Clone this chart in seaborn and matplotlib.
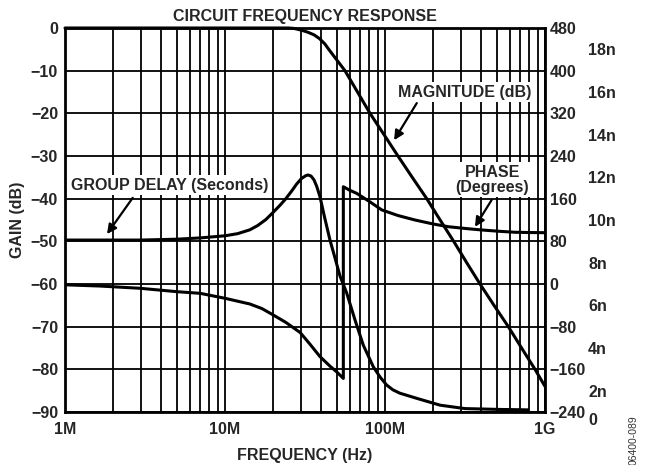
import matplotlib
matplotlib.use("Agg")
import matplotlib.pyplot as plt
import pandas as pd
import seaborn as sns
from matplotlib.transforms import blended_transform_factory

# ---- data -------------------------------------------------------------
# Magnitude response, dB
mag_freq = [1e6, 10e6, 20e6, 25e6, 27e6, 30e6, 33e6, 36e6, 39e6, 42e6,
            44.5e6, 50e6, 56.2e6, 61.5e6, 67.3e6, 80.6e6, 98.6e6, 120.5e6,
            148e6, 182.4e6, 221e6, 268.7e6, 324e6, 392.4e6, 480e6, 590e6,
            714e6, 866e6, 1e9]
mag_db = [0, 0, 0, 0, -0.1, -0.5, -1.0, -1.6, -2.5, -3.7,
          -5.0, -7.5, -10, -12.5, -15, -20, -25, -30,
          -35, -40, -45, -50, -55, -60, -65, -70,
          -75, -80, -84]

# Phase response, degrees (wraps from -180 to +180 near 55 MHz)
phase_freq = [1e6, 1.65e6, 2.94e6, 5e6, 7e6, 10e6, 14.3e6, 17e6, 20e6,
              24e6, 29.5e6, 34e6, 39.2e6, 45.3e6, 50e6, 54.9e6, 54.9e6,
              60e6, 66.5e6, 80.6e6, 95.3e6, 120.5e6, 154e6, 200e6, 249e6,
              320e6, 402e6, 520e6, 649e6, 800e6, 1e9]
phase_deg = [-1.5, -3.8, -8, -14.4, -17.5, -26.8, -37.5, -46, -58,
             -72, -91, -113, -136, -154, -165, -177, 182.4,
             176, 170, 154, 139, 128.4, 120, 112.5, 107.4,
             104, 101.3, 98.8, 97, 96.5, 96.2]

# Group delay, ns
gd_freq = [1e6, 2e6, 3e6, 5e6, 7e6, 10e6, 12e6, 14.3e6, 16e6, 18e6, 20e6,
           22e6, 24e6, 26e6, 28e6, 30e6, 32e6, 33e6, 34.5e6, 36e6, 37.5e6,
           39.2e6, 42e6, 45.3e6, 48.7e6, 52.3e6, 57.6e6, 64.9e6, 73.1e6,
           84.5e6, 93.1e6, 102.5e6, 112e6, 124e6, 158e6, 221e6, 316e6,
           524e6, 783e6]
gd_ns = [9.06, 9.06, 9.06, 9.10, 9.16, 9.26, 9.36, 9.54, 9.74, 10.02, 10.36,
         10.68, 11.0, 11.34, 11.68, 11.94, 12.08, 12.11, 12.06, 11.88, 11.56,
         11.1, 10.1, 9.06, 8.22, 7.38, 6.58, 5.32, 4.14,
         3.12, 2.64, 2.26, 2.04, 1.88, 1.64, 1.32, 1.16,
         1.12, 1.1]

# Axis ticks and labels
freq_ticks = [1e6, 10e6, 100e6, 1e9]
freq_labels = ["1M", "10M", "100M", "1G"]
gain_ticks = [0, -10, -20, -30, -40, -50, -60, -70, -80, -90]
phase_ticks = [-240, -160, -80, 0, 80, 160, 240, 320, 400, 480]
delay_ticks = [2, 4, 6, 8, 10, 12, 14, 16, 18]


def minus(v):
    return str(v).replace("-", "\u2212")


# ---- style ------------------------------------------------------------
sns.set_theme(style="white")
plt.rcParams["font.family"] = ["Liberation Sans", "DejaVu Sans"]
plt.rcParams["font.weight"] = "bold"
FS = 11.5

fig = plt.figure(figsize=(6.45, 4.65), dpi=100)
W, H = 645.0, 465.0
L, R, T, B = 65, 545, 28, 412
ax = fig.add_axes([L / W, 1 - B / H, (R - L) / W, (B - T) / H])
ax2 = ax.twinx()   # phase
ax3 = ax.twinx()   # group delay

# ---- curves -----------------------------------------------------------
mag_df = pd.DataFrame({"freq": mag_freq, "gain": mag_db})
ph_df = pd.DataFrame({"freq": phase_freq, "phase": phase_deg})
gd_df = pd.DataFrame({"freq": gd_freq, "delay": gd_ns})

kw = dict(color="black", lw=2.2, estimator=None, sort=False, legend=False)
sns.lineplot(data=mag_df, x="freq", y="gain", ax=ax, clip_on=False, **kw)
sns.lineplot(data=ph_df, x="freq", y="phase", ax=ax2, **kw)
sns.lineplot(data=gd_df, x="freq", y="delay", ax=ax3, **kw)
for a in (ax, ax2, ax3):
    a.set_xlabel("")
    a.set_ylabel("")

# ---- scales, ticks, grid ---------------------------------------------
ax.set_xscale("log")
ax.set_xlim(1e6, 1e9)
ax.set_ylim(-90, 0)
ax2.set_ylim(-240, 480)
ax3.set_ylim(1, 19)

ax.grid(True, which="both", axis="x", color="black", lw=1.3)
ax.grid(True, which="major", axis="y", color="black", lw=1.3)
ax.set_yticks(gain_ticks)
ax.set_yticklabels([minus(v) for v in gain_ticks], fontsize=FS, fontweight="bold")
ax.set_xticks(freq_ticks)
ax.set_xticklabels(freq_labels, fontsize=FS, fontweight="bold")
ax.xaxis.set_minor_formatter(plt.NullFormatter())
ax.tick_params(axis="both", which="both", length=0)
ax.tick_params(axis="y", pad=5)
ax.tick_params(axis="x", pad=7)
for s in ax.spines.values():
    s.set_color("black")
    s.set_linewidth(2.0)

ax2.set_yticks(phase_ticks)
ax2.set_yticklabels([minus(v) for v in phase_ticks], fontsize=FS, fontweight="bold")
ax2.tick_params(axis="y", length=0, pad=3.5)
ax3.set_yticks(delay_ticks)
ax3.set_yticklabels([f"{v}n" for v in delay_ticks], fontsize=FS, fontweight="bold")
ax3.tick_params(axis="y", length=0, pad=31)
for a in (ax2, ax3):
    a.grid(False)
    for s in a.spines.values():
        s.set_visible(False)

# "0" of the delay scale sits just below the frame
tr = blended_transform_factory(ax3.transAxes, ax3.transData)
ax3.text((588 - L) / (R - L), 0.62, "0", transform=tr, fontsize=FS,
         fontweight="bold", ha="left", va="center", clip_on=False)

# ---- annotations ------------------------------------------------------
box = dict(boxstyle="square,pad=0.15", fc="white", ec="none")
arrow = dict(arrowstyle="-|>", color="black", lw=1.6, mutation_scale=14,
             shrinkA=0, shrinkB=0)
dt = ax.transData
ax3.text(4.53e6, -36.8, "GROUP DELAY (Seconds)", transform=dt, fontsize=FS,
         fontweight="bold", ha="center", va="center", bbox=box)
ax3.annotate("", xy=(1.83e6, -48.3), xytext=(2.65e6, -39.8),
             xycoords=dt, textcoords=dt, arrowprops=arrow)
ax3.text(316e6, -15.0, "MAGNITUDE (dB)", transform=dt, fontsize=FS,
         fontweight="bold", ha="center", va="center", bbox=box)
ax3.annotate("", xy=(114e6, -26.3), xytext=(158e6, -17.6),
             xycoords=dt, textcoords=dt, arrowprops=arrow)
ax3.text(467e6, -35.6, "PHASE\n(Degrees)", transform=dt, fontsize=FS,
         fontweight="bold", ha="center", va="center", bbox=box,
         linespacing=1.0)
ax3.annotate("", xy=(365e6, -46.6), xytext=(464e6, -40.3),
             xycoords=dt, textcoords=dt, arrowprops=arrow)

# ---- titles -----------------------------------------------------------
fig.text(305 / W, 1 - 16 / H, "CIRCUIT FREQUENCY RESPONSE", fontsize=FS,
         fontweight="bold", ha="center", va="center")
fig.text(305 / W, 1 - 455 / H, "FREQUENCY (Hz)", fontsize=FS,
         fontweight="bold", ha="center", va="center")
fig.text(18 / W, 1 - 220 / H, "GAIN (dB)", fontsize=FS, fontweight="bold",
         ha="center", va="center", rotation=90)
fig.text(634 / W, 1 - 440 / H, "06400-089", fontsize=7.5, fontweight="normal",
         color="#333333", ha="center", va="center", rotation=90)

fig.savefig("out.png", dpi=100)
